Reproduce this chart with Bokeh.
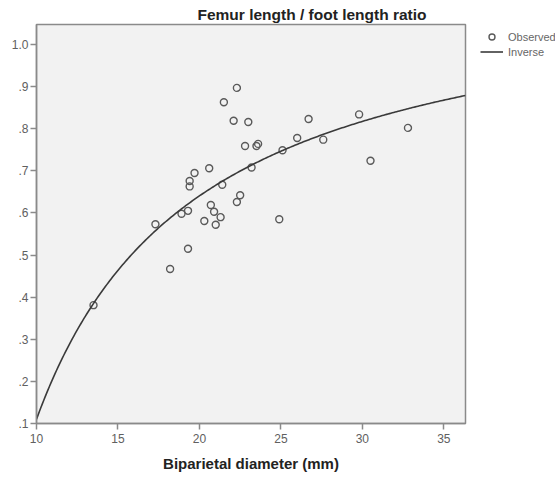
import numpy as np
from bokeh.plotting import figure
from bokeh.layouts import row
from bokeh.models import (ColumnDataSource, Range1d, FixedTicker, CustomJSTickFormatter,
                          Legend, LegendItem, Title)
from bokeh.embed import file_html
from bokeh.resources import INLINE

# Observed data: biparietal diameter (mm) vs femur length / foot length ratio
bpd = [22.3, 21.5, 22.1, 23.0, 26.7, 26.0, 27.6, 22.8, 23.5, 23.6, 25.1, 23.2,
       20.6, 19.7, 19.4, 19.4, 21.4, 22.5, 22.3, 20.7, 20.9, 21.3, 20.3, 21.0,
       19.3, 18.9, 17.3, 24.9, 19.3, 18.2, 13.5, 29.8, 32.8, 30.5]
ratio = [0.897, 0.863, 0.819, 0.816, 0.823, 0.778, 0.774, 0.759, 0.759, 0.764,
         0.749, 0.708, 0.706, 0.695, 0.676, 0.663, 0.667, 0.642, 0.626, 0.619,
         0.603, 0.590, 0.581, 0.572, 0.605, 0.598, 0.573, 0.585, 0.515, 0.467,
         0.381, 0.834, 0.802, 0.724]

# Inverse model fit: y = b0 + b1 / x
b0 = 1.171
b1 = -10.61

x_ticks = [10, 15, 20, 25, 30, 35]
y_ticks = [0.1, 0.2, 0.3, 0.4, 0.5, 0.6, 0.7, 0.8, 0.9, 1.0]
legend_labels = ["Observed", "Inverse"]

X_MIN, X_MAX = 10, 36.33
Y_MIN, Y_MAX = 0.1, 1.0475

FONT = "Liberation Sans"
H = 476
W_MAIN, W_LEG = 475, 80
ML, MR, MT, MB = 36, 10, 24, 53

PT_STYLE = dict(size=7, marker="circle", fill_color=None, line_color="#5a5a5a", line_width=1.4)
LN_STYLE = dict(line_color="#3a3a3a", line_width=1.6)

p = figure(width=W_MAIN, height=H, output_backend="svg", toolbar_location=None,
           x_range=Range1d(X_MIN, X_MAX), y_range=Range1d(Y_MIN, Y_MAX),
           min_border_left=ML, min_border_right=MR, min_border_top=MT,
           min_border_bottom=MB)

p.background_fill_color = "#f2f2f2"
p.border_fill_color = "white"
p.outline_line_color = "#8a8a8a"
p.outline_line_width = 1.5
p.grid.visible = False

src = ColumnDataSource(dict(x=bpd, y=ratio))
p.scatter("x", "y", source=src, **PT_STYLE)

xs = np.linspace(X_MIN, X_MAX, 300)
ys = b0 + b1 / xs
fit_src = ColumnDataSource(dict(x=xs, y=ys))
p.line("x", "y", source=fit_src, **LN_STYLE)

for ax in (p.xaxis[0], p.yaxis[0]):
    ax.axis_line_color = "#8a8a8a"
    ax.axis_line_width = 1.5
    ax.major_tick_line_color = "#8a8a8a"
    ax.major_tick_line_width = 1.5
    ax.major_tick_out = 6
    ax.major_tick_in = 0
    ax.minor_tick_line_color = None
    ax.major_label_text_font = FONT
    ax.major_label_text_font_size = "12px"
    ax.major_label_text_color = "#606060"

p.xaxis.ticker = FixedTicker(ticks=x_ticks)
p.yaxis.ticker = FixedTicker(ticks=y_ticks)
p.yaxis.formatter = CustomJSTickFormatter(
    code="var s = tick.toFixed(1); return tick < 1 ? s.replace(/^0/, '') : s;")
p.xaxis.major_label_standoff = 4
p.yaxis.major_label_standoff = 2

p.xaxis.axis_label = "Biparietal diameter (mm)"
p.xaxis.axis_label_text_font = FONT
p.xaxis.axis_label_text_font_size = "15px"
p.xaxis.axis_label_text_font_style = "bold"
p.xaxis.axis_label_text_color = "#222222"
p.xaxis.axis_label_standoff = 9

title = Title(text="Femur length / foot length ratio", align="left", offset=161,
              text_font=FONT, text_font_size="15.5px", text_font_style="bold",
              text_color="#222222", standoff=4)
p.add_layout(title, "above")

# Legend panel to the right of the plot (its ranges keep the data out of view,
# so only the legend shows)
p2 = figure(width=W_LEG, height=H, output_backend="svg", toolbar_location=None,
            x_range=Range1d(0, 1), y_range=Range1d(0, 1),
            x_axis_type=None, y_axis_type=None,
            min_border_left=0, min_border_right=0, min_border_top=21, min_border_bottom=0)
p2.outline_line_color = None
p2.background_fill_color = "white"
p2.border_fill_color = "white"
p2.grid.visible = False
leg_pt = p2.scatter("x", "y", source=src, **PT_STYLE)
leg_ln = p2.line("x", "y", source=fit_src, **LN_STYLE)

legend = Legend(items=[LegendItem(label=legend_labels[0], renderers=[leg_pt]),
                       LegendItem(label=legend_labels[1], renderers=[leg_ln])],
                location="top_left", margin=5, padding=0, spacing=0,
                glyph_width=23, glyph_height=15, label_height=15,
                label_standoff=5, label_text_font=FONT,
                label_text_font_size="11px", label_text_color="#666666",
                border_line_color=None, background_fill_alpha=0)
p2.add_layout(legend)

layout = row(p, p2, spacing=0)
open("out.html", "w").write(file_html(layout, INLINE))
